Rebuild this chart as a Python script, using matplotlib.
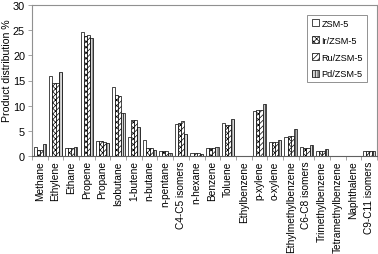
#!/usr/bin/env python3
"""Product distribution over ZSM-5 catalysts (grouped hatched bars)."""

import numpy as np
import matplotlib
matplotlib.use("Agg")
import matplotlib.pyplot as plt

plt.rcParams.update(
    {
        "font.family": ["Liberation Sans", "DejaVu Sans"],
        "font.size": 7,
        "hatch.linewidth": 0.5,
    }
)

CATEGORIES = [
    "Methane", "Ethylene", "Ethane", "Propene", "Propane", "Isobutane",
    "1-butene", "n-butane", "n-pentane", "C4-C5 isomers", "n-hexane",
    "Benzene", "Toluene", "Ethylbenzene", "p-xylene", "o-xylene",
    "Ethylmethylbenzene", "C6-C8 isomers", "Trimethylbenzene",
    "Tetramethylbenzene", "Naphthalene", "C9-C11 isomers",
]

SERIES = ["ZSM-5", "Ir/ZSM-5", "Ru/ZSM-5", "Pd/ZSM-5"]

ZSM5 = [1.8, 15.9, 1.5, 24.6, 3.0, 13.7, 3.7, 3.2, 0.9, 6.3, 0.6,
        1.6, 6.6, 0.0, 9.0, 2.8, 3.8, 1.8, 1.0, 0.0, 0.0, 0.9]
IR_ZSM5 = [1.2, 14.6, 1.5, 23.8, 3.0, 12.2, 7.2, 1.6, 0.9, 6.5, 0.6,
           1.5, 6.1, 0.0, 9.1, 2.8, 4.0, 1.6, 0.9, 0.0, 0.0, 0.9]
RU_ZSM5 = [1.2, 14.5, 1.6, 24.1, 2.8, 11.9, 7.2, 1.5, 0.9, 7.0, 0.6,
           1.5, 6.1, 0.0, 9.2, 2.8, 4.0, 1.6, 0.9, 0.0, 0.0, 0.9]
PD_ZSM5 = [2.3, 16.7, 1.7, 23.5, 2.6, 8.5, 5.7, 1.2, 0.6, 4.3, 0.3,
           1.8, 7.4, 0.0, 10.4, 3.1, 5.4, 2.2, 1.3, 0.0, 0.0, 0.9]

HATCHES = ["", "xxxxxx", "//////", "||||||"]
FACES = ["white", "white", "white", "#d8d8d8"]

fig = plt.figure(figsize=(3.78, 2.55), dpi=100)
ax = fig.add_axes([32 / 378, 1 - 157 / 255, 345 / 378, 151 / 255])

x = np.arange(len(CATEGORIES))
w = 0.2
for i, (name, vals) in enumerate(zip(SERIES, [ZSM5, IR_ZSM5, RU_ZSM5, PD_ZSM5])):
    ax.bar(
        x + (i - 1.5) * w,
        vals,
        width=w,
        color=FACES[i],
        edgecolor="black",
        linewidth=0.5,
        hatch=HATCHES[i],
        label=name,
    )

ax.set_xlim(-0.5, len(CATEGORIES) - 0.5)
ax.set_ylim(0, 30)
ax.set_yticks(range(0, 31, 5))
ax.set_xticks(x)
ax.set_xticklabels(CATEGORIES, rotation=90, fontsize=7.3)
ax.tick_params(axis="x", length=0, pad=3)
ax.set_xticks(np.arange(-0.5, len(CATEGORIES), 1), minor=True)
ax.tick_params(axis="x", which="minor", length=3, width=0.5, color="#808080")
ax.tick_params(axis="y", length=3, width=0.5, labelsize=7.8, pad=2, color="#808080")
ax.set_ylabel("Product distribution %", fontsize=7.6)
ax.yaxis.set_label_coords(-0.058, 0.57)

for s in ("top", "right", "left"):
    ax.spines[s].set_color("#909090")
    ax.spines[s].set_linewidth(0.8)
ax.spines["bottom"].set_color("#606060")
ax.spines["bottom"].set_linewidth(0.8)

leg = ax.legend(
    loc="upper right",
    bbox_to_anchor=(0.985, 0.965),
    fontsize=6.6,
    frameon=True,
    fancybox=False,
    edgecolor="#606060",
    handlelength=0.8,
    handleheight=0.8,
    handletextpad=0.3,
    borderpad=0.45,
    labelspacing=0.85,
)
leg.get_frame().set_linewidth(0.6)

fig.savefig("out.png", dpi=100)
